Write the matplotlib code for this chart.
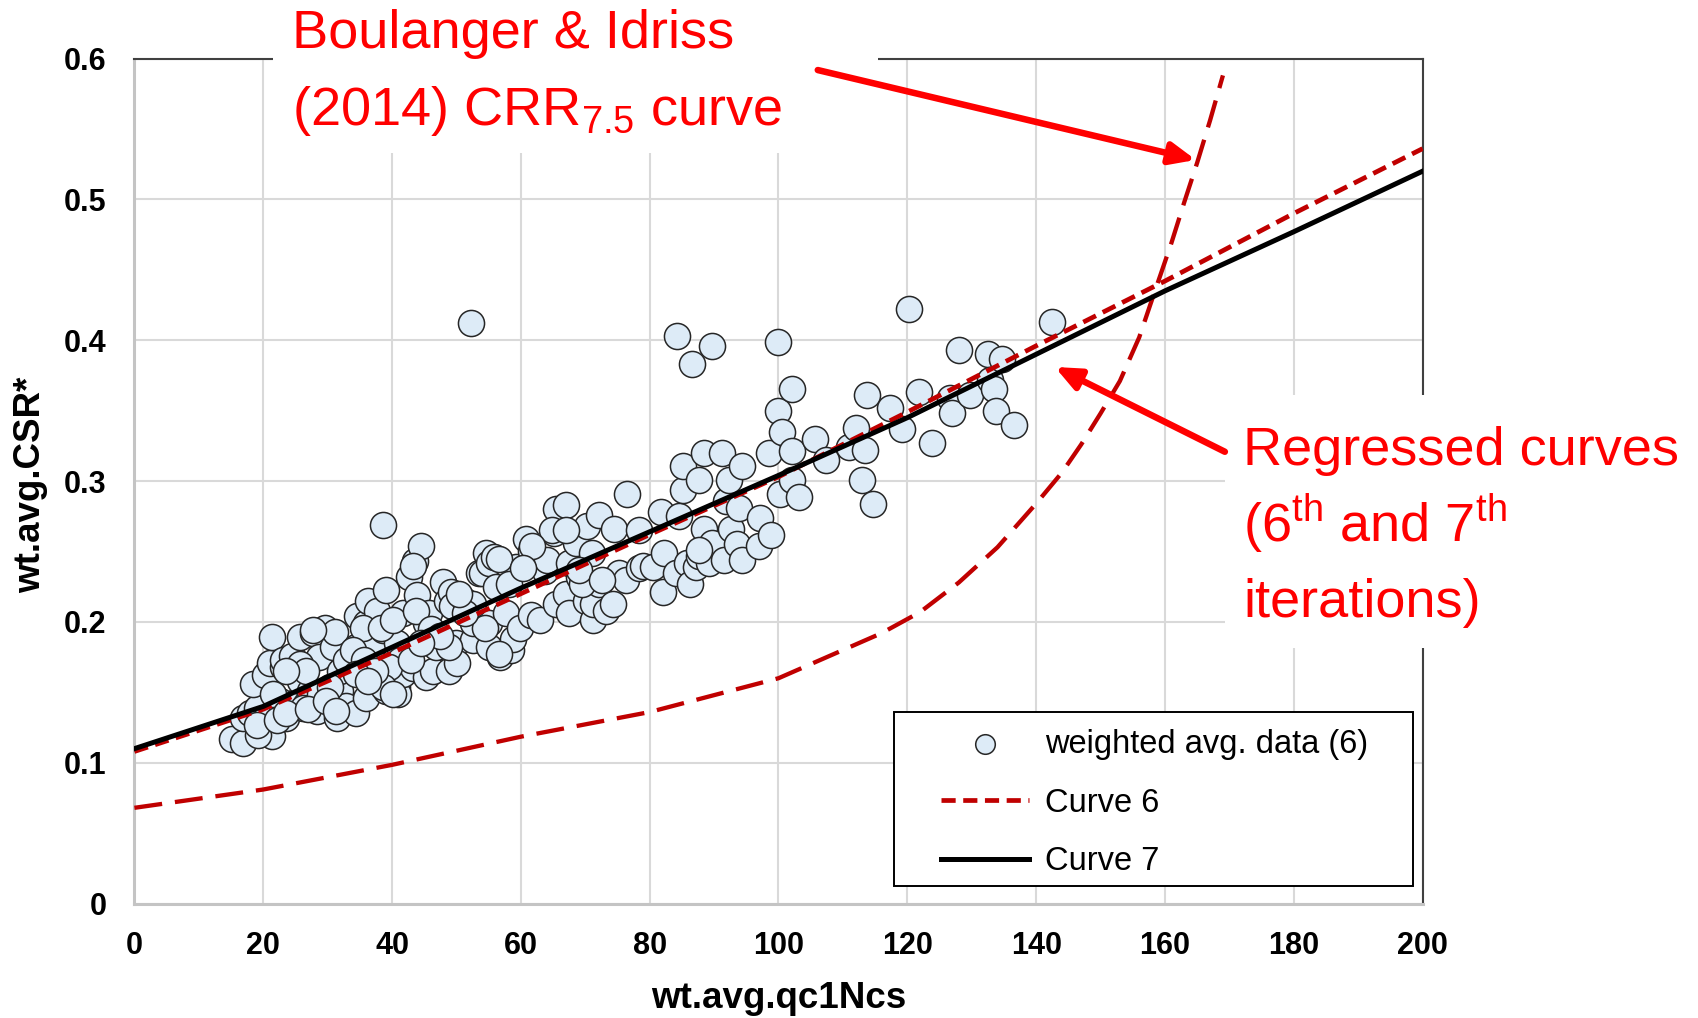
import matplotlib
matplotlib.use("Agg")
import matplotlib.pyplot as plt
from matplotlib.patches import Rectangle, FancyArrowPatch

plt.rcParams["font.family"] = ["Liberation Sans", "DejaVu Sans"]
plt.rcParams["mathtext.fontset"] = "custom"
plt.rcParams["mathtext.rm"] = "Liberation Sans"
plt.rcParams["mathtext.it"] = "Liberation Sans:italic"

# weighted-average data points (qc1Ncs, CSR*)
qc_data = [
    15.1, 16.9, 19.5, 21.4, 16.9, 17.9, 19.0, 20.5, 18.4, 20.3, 21.0, 21.3, 22.6, 23.1, 23.1,
    23.6, 24.4, 25.2, 25.7, 25.7, 26.7, 27.2, 27.8, 28.3, 28.6, 29.6, 29.8, 30.9, 31.1, 31.4,
    31.4, 31.9, 31.9, 32.9, 32.9, 34.4, 34.4, 34.5, 36.0, 36.0, 36.3, 37.1, 37.6, 38.6, 38.6,
    39.1, 39.1, 39.9, 40.7, 40.7, 41.0, 41.7, 41.3, 41.7, 42.7, 43.3, 43.5, 43.8, 44.5, 45.3,
    45.3, 45.7, 46.3, 46.9, 47.9, 48.5, 48.9, 49.1, 49.3, 50.0, 50.1, 51.4, 52.2, 52.6, 52.6,
    53.5, 54.0, 54.6, 55.1, 55.1, 55.1, 55.9, 56.1, 56.7, 57.7, 58.5, 58.8, 59.2, 59.8, 60.8,
    61.5, 61.6, 62.9, 63.7, 64.0, 65.2, 65.4, 65.5, 67.0, 67.0, 67.5, 67.5, 68.5, 69.1, 70.1,
    70.3, 71.1, 71.2, 71.2, 72.1, 72.2, 73.2, 74.3, 74.5, 75.3, 76.3, 76.5, 78.3, 78.4, 78.9,
    80.5, 81.7, 82.0, 82.2, 84.1, 84.2, 84.5, 85.1, 85.1, 85.8, 86.2, 86.5, 87.2, 87.6, 87.6,
    88.4, 88.4, 89.2, 89.6, 89.7, 91.3, 91.5, 91.8, 92.3, 92.6, 93.6, 93.8, 94.4, 94.4, 96.9,
    97.2, 98.5, 98.8, 100.0, 100.0, 100.3, 100.5, 102.1, 102.1, 102.1, 103.2, 105.7, 107.3, 110.9, 112.1,
    113.0, 113.5, 113.7, 114.7, 117.3, 119.2, 120.2, 121.8, 123.8, 126.7, 127.0, 128.0, 129.8, 132.6, 132.9,
    133.4, 133.7, 134.7, 136.5, 142.5,
    19.2, 25.7, 27.7, 26.7, 23.6, 21.5, 26.2, 28.8, 30.3, 35.5, 38.3, 43.2, 48.9, 39.6, 38.6,
    40.1, 42.9, 56.6, 54.5, 52.5, 51.4, 50.4, 40.1, 43.7, 19.0, 22.1, 23.6, 27.0, 29.8, 31.3,
    56.6, 64.9, 67.0, 87.6, 58.2, 61.8, 60.3, 69.5, 69.0, 72.6, 33.9, 35.7, 37.3, 34.4, 36.3,
    46.0, 47.5, 44.5,
]
csr_data = [
    0.117, 0.114, 0.123, 0.119, 0.132, 0.135, 0.139, 0.132, 0.156, 0.162, 0.171, 0.189, 0.144, 0.168, 0.173,
    0.132, 0.176, 0.144, 0.158, 0.189, 0.142, 0.151, 0.192, 0.137, 0.175, 0.196, 0.150, 0.182, 0.193, 0.142,
    0.132, 0.151, 0.165, 0.140, 0.173, 0.135, 0.182, 0.204, 0.146, 0.199, 0.215, 0.183, 0.208, 0.194, 0.269,
    0.151, 0.223, 0.165, 0.154, 0.185, 0.149, 0.163, 0.173, 0.206, 0.232, 0.167, 0.243, 0.219, 0.254, 0.161,
    0.199, 0.206, 0.165, 0.182, 0.228, 0.215, 0.165, 0.221, 0.211, 0.185, 0.171, 0.215, 0.412, 0.187, 0.199,
    0.235, 0.235, 0.249, 0.182, 0.199, 0.242, 0.246, 0.225, 0.175, 0.206, 0.180, 0.188, 0.239, 0.196, 0.259,
    0.250, 0.205, 0.201, 0.236, 0.244, 0.263, 0.280, 0.213, 0.220, 0.283, 0.206, 0.242, 0.256, 0.232, 0.215,
    0.268, 0.249, 0.201, 0.213, 0.276, 0.227, 0.208, 0.213, 0.266, 0.235, 0.230, 0.291, 0.265, 0.238, 0.240,
    0.239, 0.278, 0.221, 0.249, 0.235, 0.403, 0.275, 0.294, 0.311, 0.242, 0.227, 0.383, 0.239, 0.247, 0.301,
    0.266, 0.320, 0.242, 0.396, 0.256, 0.320, 0.244, 0.286, 0.301, 0.266, 0.255, 0.281, 0.244, 0.311, 0.254,
    0.274, 0.320, 0.262, 0.350, 0.399, 0.291, 0.335, 0.301, 0.321, 0.365, 0.289, 0.330, 0.315, 0.324, 0.338,
    0.301, 0.322, 0.361, 0.284, 0.352, 0.337, 0.422, 0.363, 0.327, 0.359, 0.348, 0.393, 0.361, 0.390, 0.372,
    0.365, 0.350, 0.387, 0.340, 0.413,
    0.120, 0.170, 0.194, 0.165, 0.165, 0.149, 0.139, 0.149, 0.154, 0.196, 0.196, 0.240, 0.182, 0.168, 0.154,
    0.149, 0.173, 0.177, 0.196, 0.213, 0.206, 0.220, 0.201, 0.208, 0.127, 0.130, 0.135, 0.138, 0.144, 0.137,
    0.245, 0.265, 0.265, 0.251, 0.227, 0.254, 0.238, 0.227, 0.237, 0.230, 0.180, 0.173, 0.165, 0.163, 0.158,
    0.195, 0.190, 0.185,
]

# regressed curves
curve_q = [0, 20, 40, 60, 80, 100, 120, 140, 160, 180, 200]
curve6 = [0.108, 0.138, 0.178, 0.220, 0.262, 0.303, 0.349, 0.396, 0.442, 0.490, 0.536]
curve7 = [0.110, 0.140, 0.182, 0.224, 0.264, 0.304, 0.345, 0.390, 0.435, 0.477, 0.520]

# Boulanger & Idriss (2014) CRR7.5 curve
bi_q = [0, 20, 40, 60, 80, 100, 111, 116, 122, 128, 134, 140, 144, 147, 150,
        153, 156, 158.3, 161, 163, 165, 167, 169]
bi_crr = [0.068, 0.081, 0.0985, 0.1185, 0.136, 0.160, 0.182, 0.192, 0.207, 0.228, 0.253, 0.284, 0.306, 0.326, 0.348,
          0.371, 0.402, 0.433, 0.469, 0.498, 0.526, 0.556, 0.588]

x_ticks = [0, 20, 40, 60, 80, 100, 120, 140, 160, 180, 200]
y_ticks = [0, 0.1, 0.2, 0.3, 0.4, 0.5, 0.6]
y_tick_labels = ["0", "0.1", "0.2", "0.3", "0.4", "0.5", "0.6"]

W, H = 1699, 1018
fig = plt.figure(figsize=(W / 100, H / 100), dpi=100)
ax = fig.add_axes([134.4 / W, 1 - 903.6 / H, 1288.2 / W, 845.1 / H])


def fx(px):
    return px / W


def fy(py):
    return 1 - py / H


ax.set_xlim(0, 200)
ax.set_ylim(0, 0.6)
ax.set_xticks(x_ticks)
ax.set_yticks(y_ticks)
ax.set_yticklabels(y_tick_labels)
ax.tick_params(length=0, pad=20, labelsize=22)
for lab in ax.get_xticklabels() + ax.get_yticklabels():
    lab.set_fontweight("bold")
ax.set_axisbelow(True)
ax.grid(True, color="#D9D9D9", lw=1.5)
for side in ["left", "bottom"]:
    ax.spines[side].set_color("#C4C4C4")
    ax.spines[side].set_linewidth(2.2)
for side in ["top", "right"]:
    ax.spines[side].set_color("#404040")
    ax.spines[side].set_linewidth(1.5)

pts = ax.scatter(qc_data, csr_data, s=18.8 ** 2, facecolor="#DDEBF7", edgecolor="#262626",
                 linewidth=1.1, zorder=2, label="weighted avg. data (6)")
ax.plot(bi_q, bi_crr, color="#C00000", lw=3.1, dashes=(6.5, 3.0), zorder=3, clip_on=False)
c6, = ax.plot(curve_q, curve6, color="#C00000", lw=3.4, dashes=(3.0, 1.6), zorder=4, label="Curve 6")
c7, = ax.plot(curve_q, curve7, color="black", lw=3.6, zorder=5, label="Curve 7")

fig.text(fx(779), fy(1008), "wt.avg.qc1Ncs", ha="center", va="baseline",
         fontsize=26.5, fontweight="bold")
fig.text(fx(31), fy(485), "wt.avg.CSR*", ha="center", va="center", rotation=90,
         fontsize=26.5, fontweight="bold")

# white panels behind the callouts
ax.add_patch(Rectangle((fx(273), fy(153)), fx(878 - 273), 153 / H, transform=fig.transFigure,
                       facecolor="white", edgecolor="none", clip_on=False, zorder=10))
ax.add_patch(Rectangle((fx(1225), fy(648)), fx(W - 1225), (648 - 395) / H, transform=fig.transFigure,
                       facecolor="white", edgecolor="none", clip_on=False, zorder=10))

# legend frame and entries
ax.add_patch(Rectangle((fx(894), fy(886)), fx(1413 - 894), (886 - 712) / H, transform=fig.transFigure,
                       facecolor="white", edgecolor="black", lw=1.4, clip_on=False, zorder=6))
leg = ax.legend(handles=[pts, c6, c7], loc="upper left", bbox_to_anchor=(fx(941), fy(729)),
                bbox_transform=fig.transFigure, frameon=False, borderpad=0, borderaxespad=0,
                fontsize=23.5, handlelength=2.7, handletextpad=0.5, labelspacing=0.85,
                markerscale=0.75, scatterpoints=1)
leg.set_zorder(7)

red = "#FF0000"
for (x0, y0), (x1, y1) in [((106.1, 0.5918), (164.8, 0.528)), ((169.3, 0.3208), (142.9, 0.381))]:
    ax.add_patch(FancyArrowPatch((x0, y0), (x1, y1), arrowstyle="-|>,head_length=15,head_width=6.5",
                                 mutation_scale=1, color=red, lw=4.7, shrinkA=0, shrinkB=0,
                                 clip_on=False, zorder=11))

fs = 39
fig.text(fx(292), fy(48), "Boulanger & Idriss", color=red, fontsize=fs, va="baseline", zorder=12)
fig.text(fx(292), fy(125), "(2014) CRR$_{7.5}$ curve", color=red, fontsize=fs, va="baseline", zorder=12)
fig.text(fx(1243), fy(465), "Regressed curves", color=red, fontsize=fs, va="baseline", zorder=12)
fig.text(fx(1243), fy(542), r"(6$^{\mathrm{th}}$ and 7$^{\mathrm{th}}$", color=red, fontsize=fs,
         va="baseline", zorder=12)
fig.text(fx(1243), fy(617), "iterations)", color=red, fontsize=fs, va="baseline", zorder=12)

fig.savefig("out.png", dpi=100)
